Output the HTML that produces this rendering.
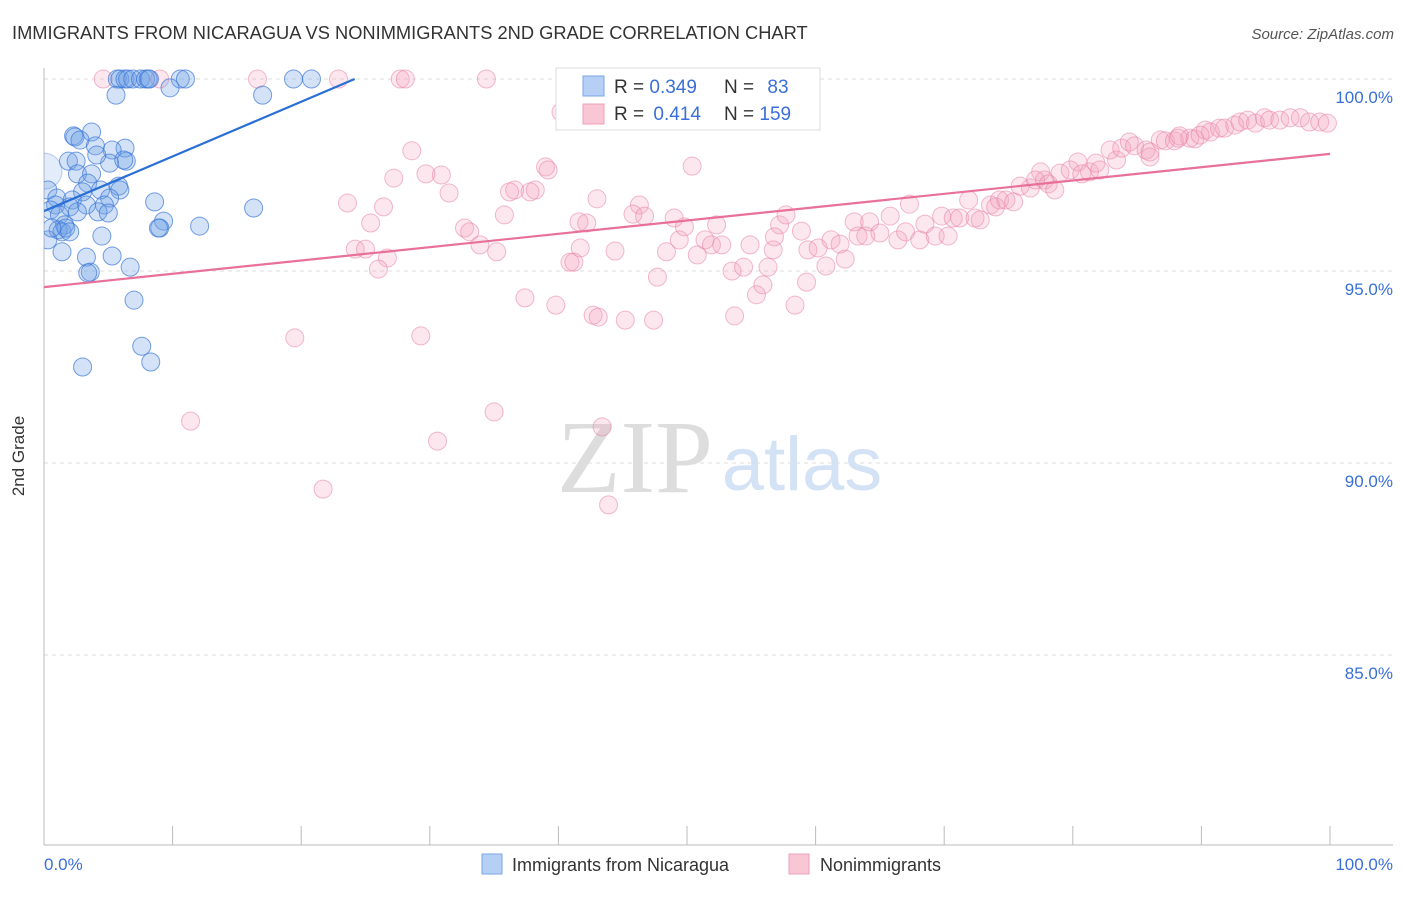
<!DOCTYPE html>
<html><head><meta charset="utf-8"><style>
body{margin:0;background:#fff;font-family:"Liberation Sans",sans-serif;}
svg text{font-family:"Liberation Sans",sans-serif;}
</style></head><body>
<svg id="chart" width="1406" height="892" viewBox="0 0 1406 892">
<defs><clipPath id="plotclip"><rect x="44" y="40" width="1360" height="805"/></clipPath></defs>
<text x="12" y="39" font-size="18.3" fill="#333">IMMIGRANTS FROM NICARAGUA VS NONIMMIGRANTS 2ND GRADE CORRELATION CHART</text>
<text x="1394" y="39" font-size="15" fill="#555" font-style="italic" text-anchor="end">Source: ZipAtlas.com</text>
<g id="grid"></g>
<g><text x="635" y="492" font-size="104" fill="#ddd" text-anchor="middle" style="font-family:'Liberation Serif',serif">ZIP</text><text x="802" y="490" font-size="76" fill="#d3e2f5" text-anchor="middle">atlas</text></g>
<line x1="44" y1="68" x2="44" y2="845" stroke="#bbb"/>
<line x1="44" y1="845" x2="1393" y2="845" stroke="#bbb"/>
<g id="ticks"></g>
<text x="24" y="456" font-size="17" fill="#333" text-anchor="middle" transform="rotate(-90 24 456)">2nd Grade</text>
<text x="44" y="870" font-size="17" fill="#3a6fd8">0.0%</text>
<text x="1393" y="870" font-size="17" fill="#3a6fd8" text-anchor="end">100.0%</text>
<g clip-path="url(#plotclip)">
<g id="pink"></g>
<g id="blue"></g>
<g id="trends"></g>
</g>
<g>
<rect x="556" y="68" width="264" height="62" fill="#fff" stroke="#ddd"/>
<rect x="583" y="76" width="21" height="20" fill="#b5cff5" stroke="#7aa6e8"/>
<rect x="583" y="104" width="21" height="20" fill="#f9c6d5" stroke="#eda0b8"/>
<text x="614" y="93" font-size="19" fill="#333">R = <tspan fill="#3a6fd8">0.349</tspan></text>
<text x="724" y="93" font-size="19" fill="#333">N = <tspan fill="#3a6fd8" dx="8">83</tspan></text>
<text x="614" y="120" font-size="19" fill="#333">R = <tspan fill="#3a6fd8" dx="4">0.414</tspan></text>
<text x="724" y="120" font-size="19" fill="#333">N = <tspan fill="#3a6fd8">159</tspan></text>
</g>
<g><rect x="482" y="854" width="20" height="20" fill="#b5cff5" stroke="#7aa6e8"/><text x="512" y="871" font-size="18" fill="#333">Immigrants from Nicaragua</text></g>
<g><rect x="789" y="854" width="20" height="20" fill="#f9c6d5" stroke="#eda0b8"/><text x="820" y="871" font-size="18" fill="#333">Nonimmigrants</text></g>
</svg>
<script>
const yTicks=[100,95,90,85];
const xTickVals=[0,10,20,30,40,50,60,70,80,90,100];
const blueX=[5.7,5.9,6.3,6.5,6.9,7.5,7.9,8.1,8.2,10.6,11.0,19.4,20.8,5.6,9.8,17.0,2.3,2.4,3.7,2.8,4.0,6.3,5.3,1.9,2.5,6.4,5.1,4.1,6.2,0.0,2.6,3.7,3.4,5.8,0.3,3.0,4.4,5.9,1.0,2.2,3.3,5.1,4.7,0.9,2.0,4.2,5.0,0.5,1.2,2.6,1.6,1.1,1.4,1.7,2.0,0.3,0.6,4.5,1.4,3.3,5.3,3.6,3.4,6.7,8.6,9.3,9.0,8.9,12.1,16.3,7.0,7.6,8.3,3.0];
const blueY=[100,100,100,100,100,100,100,100,100,100,100,100,100,99.58,99.77,99.58,98.52,98.49,98.62,98.41,98.26,98.2,98.15,97.86,97.86,97.86,97.81,98.02,97.89,97.6,97.53,97.53,97.29,97.21,97.11,97.06,97.11,97.11,96.9,96.85,96.72,96.9,96.72,96.72,96.67,96.54,96.51,96.59,96.46,96.54,96.2,96.07,96.02,96.12,96.02,95.81,96.12,95.91,95.5,95.36,95.39,94.97,94.95,95.1,96.8,96.3,96.12,96.12,96.17,96.64,94.24,93.04,92.63,92.5];
const pinkX=[4.6,9.0,16.6,22.9,27.7,28.1,34.4,40.2,50.4,39.0,39.2,36.6,36.2,38.2,37.8,35.8,32.7,33.1,33.9,35.2,30.9,29.7,28.6,27.2,26.4,23.6,25.4,24.2,25.0,26.7,26.0,31.5,41.6,41.7,40.9,41.2,43.0,42.2,44.4,46.3,45.8,46.7,47.7,48.4,49.0,49.4,49.8,50.8,51.4,51.9,52.7,52.3,53.5,54.4,54.9,56.3,55.4,55.9,56.7,57.2,57.7,56.8,58.9,59.3,58.4,59.4,60.2,60.8,61.2,61.9,62.3,63.0,63.3,63.9,64.2,65.0,65.8,66.4,67.0,67.3,68.1,68.5,69.3,69.8,70.3,70.7,71.2,71.9,72.4,72.8,73.6,74.0,74.3,74.8,75.4,75.9,76.7,77.5,77.8,77.1,78.1,78.6,79.0,79.8,80.4,80.7,81.3,81.8,82.1,82.9,83.4,83.8,84.4,84.8,85.7,86.0,86.8,87.2,87.9,88.3,89.1,89.5,90.3,90.7,91.4,91.8,92.6,93.0,93.6,94.2,94.9,95.3,96.1,96.9,97.7,98.4,99.2,99.8,89.9,86.0,88.2,37.4,39.8,42.7,43.1,45.2,47.4,53.7,19.5,29.3,11.4,35.0,30.6,43.4,21.7,43.9];
const pinkY=[100,100,100,100,100,100,100,99.14,97.73,97.71,97.63,97.11,97.06,97.11,97.06,96.46,96.12,96.02,95.68,95.5,97.5,97.53,98.13,97.42,96.67,96.77,96.25,95.57,95.57,95.34,95.05,97.03,96.28,95.6,95.23,95.23,96.88,96.25,95.52,96.72,96.48,96.43,94.84,95.5,96.38,95.81,96.15,95.42,95.81,95.68,95.68,96.2,95.0,95.1,95.68,95.1,94.38,94.64,95.55,96.2,96.46,95.89,96.04,94.71,94.11,95.55,95.6,95.13,95.81,95.7,95.31,96.28,95.91,95.91,96.28,95.99,96.43,95.81,96.02,96.74,95.81,96.22,95.91,96.43,95.91,96.38,96.38,96.85,96.38,96.33,96.72,96.67,96.85,96.85,96.8,97.21,97.16,97.58,97.37,97.37,97.27,97.11,97.55,97.63,97.84,97.53,97.58,97.81,97.63,98.15,97.89,98.2,98.36,98.26,98.15,97.97,98.41,98.39,98.39,98.52,98.46,98.44,98.67,98.62,98.72,98.72,98.8,98.88,98.93,98.85,98.99,98.93,98.93,98.99,98.99,98.88,98.88,98.85,98.54,98.1,98.46,94.3,94.11,93.85,93.8,93.72,93.72,93.83,93.26,93.31,91.09,91.33,90.57,90.94,89.32,88.91];
const blueTrend=[96.56,110.8];
const pinkTrend=[94.58,98.05];
const NS="http://www.w3.org/2000/svg";
function xs(v){return 44+v*12.86;}
function ys(v){return 79+(100-v)*38.4;}
function mk(tag,attrs,parent){const e=document.createElementNS(NS,tag);for(const k in attrs)e.setAttribute(k,attrs[k]);parent.appendChild(e);return e;}
const grid=document.getElementById('grid');
yTicks.forEach(t=>{
  const l=mk('line',{x1:44,x2:1393,y1:ys(t),y2:ys(t),stroke:'#ddd','stroke-dasharray':'4 4'},grid);
  
  
  const tx=mk('text',{x:1393,y:ys(t)+24,'font-size':17,fill:'#3a6fd8','text-anchor':'end'},grid);
  tx.textContent=t.toFixed(1)+'%';
  
  
});
const ticks=document.getElementById('ticks');
xTickVals.forEach(t=>{
  const l=mk('line',{x1:xs(t),x2:xs(t),y1:826,y2:845,stroke:'#bbb'},ticks);
  
  
});
function pts(gid,X,Y,fill,stroke,name){
  const g=document.getElementById(gid);
  X.forEach((x,i)=>{
    const big=(gid==='blue'&&x===0);
    const c=mk('circle',{cx:xs(x),cy:ys(Y[i]),r:big?18:9,fill:big?'rgba(110,160,230,0.2)':fill,stroke:big?'rgba(60,120,215,0.35)':stroke,'stroke-width':1},g);
    
    
  });
}
pts('pink',pinkX,pinkY,'rgba(244,160,188,0.25)','rgba(232,130,165,0.55)','nonimmigrant-point');
pts('blue',blueX,blueY,'rgba(110,160,230,0.3)','rgba(60,120,215,0.7)','nicaragua-point');
const tr=document.getElementById('trends');
function trend(t,color,name){
  let x2=100,y2=t[1];
  if(y2>100){x2=100*(100-t[0])/(t[1]-t[0]);y2=100;}
  const l=mk('line',{x1:xs(0),y1:ys(t[0]),x2:xs(x2),y2:ys(y2),stroke:color,'stroke-width':2.2},tr);
  
  
}
trend(pinkTrend,'#e8709a','nonimmigrants-trend-line');
trend(blueTrend,'#2a6fd6','nicaragua-trend-line');
</script>
</body></html>
